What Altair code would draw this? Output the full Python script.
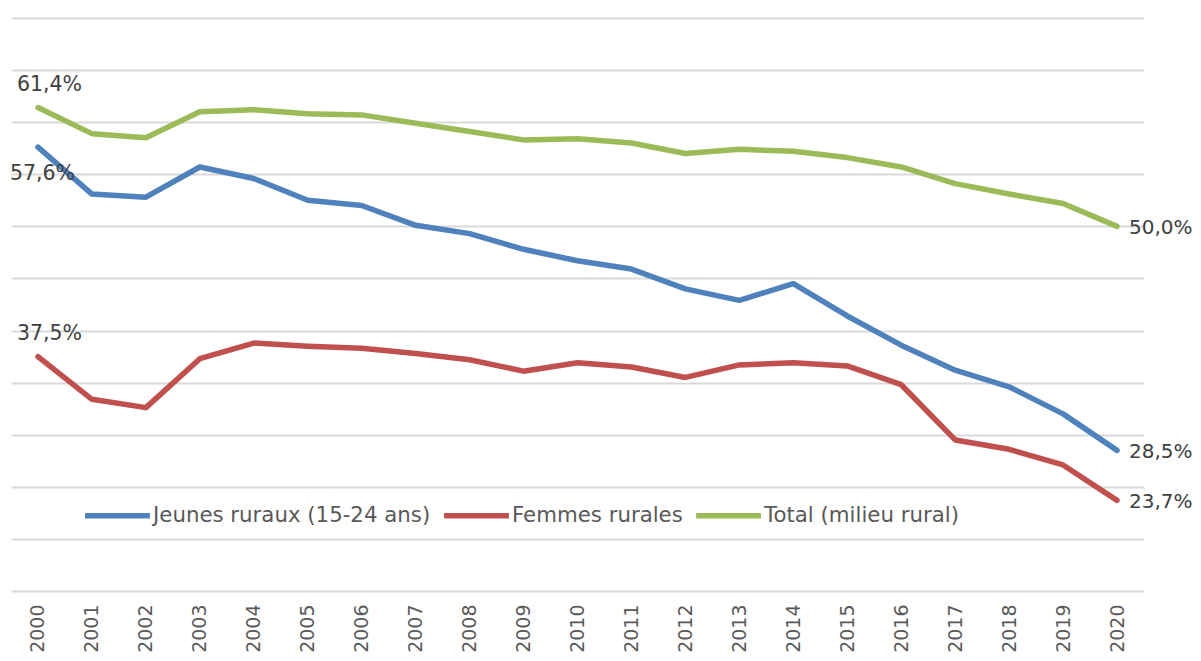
import altair as alt
import pandas as pd

years = [2000, 2001, 2002, 2003, 2004, 2005, 2006, 2007, 2008, 2009, 2010,
         2011, 2012, 2013, 2014, 2015, 2016, 2017, 2018, 2019, 2020]
jeunes = [57.6, 53.1, 52.8, 55.7, 54.6, 52.5, 52.0, 50.1, 49.3, 47.8, 46.7,
          45.9, 44.0, 42.9, 44.5, 41.4, 38.6, 36.2, 34.6, 32.0, 28.5]
femmes = [37.5, 33.4, 32.6, 37.3, 38.8, 38.5, 38.3, 37.8, 37.2, 36.1, 36.9,
          36.5, 35.5, 36.7, 36.9, 36.6, 34.8, 29.5, 28.6, 27.1, 23.7]
total = [61.4, 58.9, 58.5, 61.0, 61.2, 60.8, 60.7, 59.9, 59.1, 58.3, 58.4,
         58.0, 57.0, 57.4, 57.2, 56.6, 55.7, 54.1, 53.1, 52.2, 50.0]
series_names = ["Jeunes ruraux (15-24 ans)", "Femmes rurales", "Total (milieu rural)"]
colors = ["#4F81BD", "#C0504D", "#9BBB59"]
y_ticks = [15, 20, 25, 30, 35, 40, 45, 50, 55, 60, 65, 70]

rows = []
for name, vals in zip(series_names, [jeunes, femmes, total]):
    for yr, v in zip(years, vals):
        rows.append({"year": yr, "value": v, "series": name,
                     "label": f"{v:.1f}".replace(".", ",") + "%"})
df = pd.DataFrame(rows)

FONT = "DejaVu Sans"

x_enc = alt.X("year:Q",
              scale=alt.Scale(domain=[1999.5, 2020.5], nice=False, zero=False),
              axis=alt.Axis(values=years, format="d", labelAngle=270, grid=False,
                            ticks=False, domain=False, labelPadding=13,
                            labelFont=FONT, labelFontSize=19, labelColor="#595959",
                            title=None))
y_enc = alt.Y("value:Q",
              scale=alt.Scale(domain=[15, 70], nice=False, zero=False),
              axis=alt.Axis(values=y_ticks, labels=False, ticks=False, domain=False,
                            grid=True, gridColor="#D9D9D9", gridWidth=2, title=None))

base = alt.Chart(df).encode(x=x_enc, y=y_enc)

lines = base.mark_line(strokeWidth=5.5, strokeCap="round", strokeJoin="round").encode(
    color=alt.Color("series:N",
                    scale=alt.Scale(domain=series_names, range=colors),
                    legend=alt.Legend(orient="none", legendX=71, legendY=462,
                                      direction="horizontal", symbolType="stroke",
                                      symbolSize=4200, symbolStrokeWidth=5.5,
                                      labelFont=FONT, labelFontSize=21.3,
                                      labelColor="#595959", columnPadding=2,
                                      labelOffset=0, labelLimit=0, title=None))
)

txt = dict(font=FONT, fontSize=20.5, color="#404040")

lab_above = base.transform_filter(
    "datum.year == 2000 && datum.series != 'Jeunes ruraux (15-24 ans)'"
).mark_text(align="left", baseline="alphabetic", dx=-21, dy=-17, **txt).encode(text="label:N")

lab_below = base.transform_filter(
    "datum.year == 2000 && datum.series == 'Jeunes ruraux (15-24 ans)'"
).mark_text(align="left", baseline="alphabetic", dx=-28, dy=33, **txt).encode(text="label:N")

lab_right = base.transform_filter(
    "datum.year == 2020"
).mark_text(align="left", baseline="middle", dx=12, dy=2, font=FONT, fontSize=20,
            color="#404040").encode(text="label:N")

chart = alt.layer(lines, lab_above, lab_below, lab_right).properties(
    width=1133, height=573,
    autosize=alt.AutoSizeParams(type="none"),
    padding={"left": 3, "top": 10, "right": 49, "bottom": 62},
).configure_view(stroke=None)

chart.save("out.html", embed_options={"renderer": "svg", "actions": False})
